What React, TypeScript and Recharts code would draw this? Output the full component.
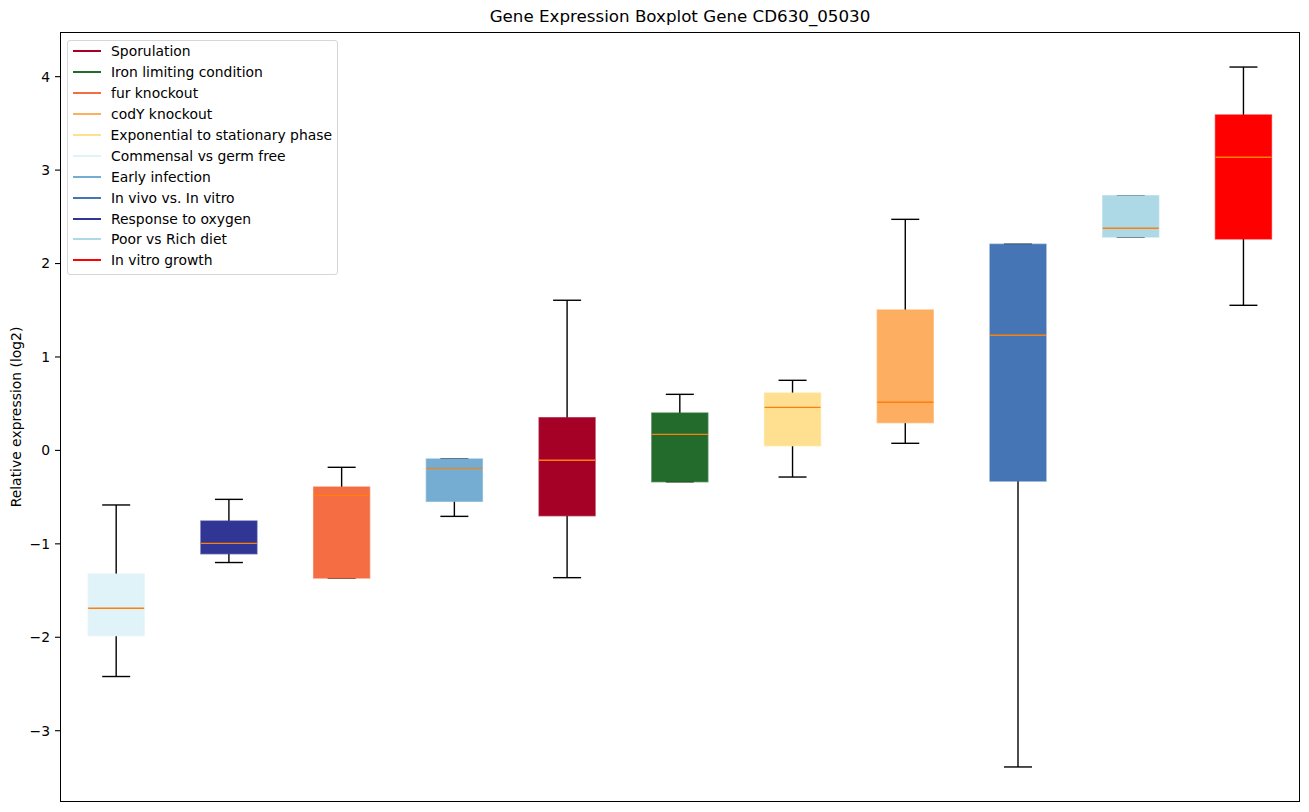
import { Bar, ComposedChart, Legend, XAxis, YAxis } from "recharts";

const FONT = "'DejaVu Sans', sans-serif";

// boxes, left to right
const categories = [
  "Commensal vs germ free",
  "Response to oxygen",
  "fur knockout",
  "Early infection",
  "Sporulation",
  "Iron limiting condition",
  "Exponential to stationary phase",
  "codY knockout",
  "In vivo vs. In vitro",
  "Poor vs Rich diet",
  "In vitro growth",
];
const boxColors = [
  "#e0f3f8",
  "#313695",
  "#f46d43",
  "#74add1",
  "#a50026",
  "#236b2d",
  "#fee090",
  "#fdae61",
  "#4575b4",
  "#add8e6",
  "#ff0000",
];
const whiskerLow = [-2.42, -1.2, -1.366, -0.706, -1.362, -0.335, -0.285, 0.076, -3.388, 2.284, 1.553];
const q1 = [-1.983, -1.106, -1.366, -0.545, -0.699, -0.335, 0.05, 0.297, -0.328, 2.284, 2.263];
const median = [-1.69, -0.995, -0.481, -0.192, -0.106, 0.172, 0.461, 0.515, 1.232, 2.377, 3.137];
const q3 = [-1.323, -0.756, -0.392, -0.092, 0.35, 0.4, 0.614, 1.503, 2.206, 2.726, 3.59];
const whiskerHigh = [-0.584, -0.524, -0.181, -0.092, 1.607, 0.6, 0.75, 2.473, 2.206, 2.726, 4.103];

// legend order as in the figure
const legendLabels = [
  "Sporulation",
  "Iron limiting condition",
  "fur knockout",
  "codY knockout",
  "Exponential to stationary phase",
  "Commensal vs germ free",
  "Early infection",
  "In vivo vs. In vitro",
  "Response to oxygen",
  "Poor vs Rich diet",
  "In vitro growth",
];

const yTicks = [-3, -2, -1, 0, 1, 2, 3, 4];
const yDomain = [-3.763, 4.478];

const data = categories.map((name, i) => ({
  name,
  range: [whiskerLow[i], whiskerHigh[i]],
  q1: q1[i],
  median: median[i],
  q3: q3[i],
  color: boxColors[i],
}));

const colorOf = (label: string) => boxColors[categories.indexOf(label)];

function BoxShape(props: any) {
  const { x, y, width, height, payload } = props;
  const [lo, hi] = payload.range;
  const toY = (v: number) => y + ((hi - v) / (hi - lo)) * height;
  const cx = x + width / 2;
  const cap = width / 4;
  const yq1 = toY(payload.q1);
  const yq3 = toY(payload.q3);
  return (
    <g>
      <line x1={cx} x2={cx} y1={toY(hi)} y2={yq3} stroke="#000" strokeWidth={1.4} />
      <line x1={cx} x2={cx} y1={yq1} y2={toY(lo)} stroke="#000" strokeWidth={1.4} />
      <line x1={cx - cap} x2={cx + cap} y1={toY(hi)} y2={toY(hi)} stroke="#000" strokeWidth={1.4} />
      <line x1={cx - cap} x2={cx + cap} y1={toY(lo)} y2={toY(lo)} stroke="#000" strokeWidth={1.4} />
      <rect
        x={x}
        y={yq3}
        width={width}
        height={yq1 - yq3}
        fill={payload.color}
        stroke={payload.color}
        strokeWidth={1.4}
        strokeOpacity={0.65}
      />
      <line
        x1={x}
        x2={x + width}
        y1={toY(payload.median)}
        y2={toY(payload.median)}
        stroke="#ff7f0e"
        strokeWidth={1.4}
      />
    </g>
  );
}

function LegendBox() {
  return (
    <div
      style={{
        width: 271,
        boxSizing: "border-box",
        padding: "0px 5px 3px 5px",
        border: "1px solid #d6d6d6",
        borderRadius: 3,
        background: "rgba(255,255,255,0.8)",
        fontFamily: FONT,
        fontSize: 13.9,
        color: "#000",
      }}
    >
      {legendLabels.map((label) => (
        <div key={label} style={{ display: "flex", alignItems: "center", height: 20.9 }}>
          <span
            style={{
              display: "inline-block",
              width: 28,
              height: 2,
              background: colorOf(label),
              marginRight: 10,
            }}
          />
          <span style={{ whiteSpace: "nowrap" }}>{label}</span>
        </div>
      ))}
    </div>
  );
}

export default function App() {
  return (
    <div style={{ position: "absolute", left: 0, top: 0, width: 1309, height: 812, background: "#fff" }}>
      <ComposedChart
        width={1309}
        height={812}
        data={data}
        barCategoryGap="25%"
        margin={{ top: 32, right: 9, bottom: 10, left: 0 }}
      >
        <XAxis dataKey="name" hide />
        <YAxis
          type="number"
          width={60}
          domain={yDomain}
          ticks={yTicks}
          allowDataOverflow
          axisLine={false}
          tickLine={{ stroke: "#000", strokeWidth: 1.1 }}
          tickSize={5}
          tickMargin={5}
          tick={{ fill: "#000", fontSize: 13.9, fontFamily: FONT }}
          tickFormatter={(v: number) => (v < 0 ? `\u2212${Math.abs(v)}` : `${v}`)}
        />
        <Legend
          layout="horizontal"
          verticalAlign="middle"
          align="center"
          content={() => <LegendBox />}
          wrapperStyle={{ left: 67, top: 40, width: 271 }}
        />
        <Bar dataKey="range" shape={BoxShape} isAnimationActive={false} />
      </ComposedChart>
      <div
        style={{
          position: "absolute",
          left: 60,
          top: 32,
          width: 1240,
          height: 770,
          boxSizing: "border-box",
          border: "1.1px solid #000",
          pointerEvents: "none",
        }}
      />
      <div
        style={{
          position: "absolute",
          left: 60,
          width: 1240,
          top: 6,
          textAlign: "center",
          fontFamily: FONT,
          fontSize: 16.7,
          color: "#000",
        }}
      >
        Gene Expression Boxplot Gene CD630_05030
      </div>
      <div
        style={{
          position: "absolute",
          left: 16,
          top: 417,
          transform: "translate(-50%, -50%) rotate(-90deg)",
          whiteSpace: "nowrap",
          fontFamily: FONT,
          fontSize: 13.9,
          color: "#000",
        }}
      >
        Relative expression (log2)
      </div>
    </div>
  );
}
